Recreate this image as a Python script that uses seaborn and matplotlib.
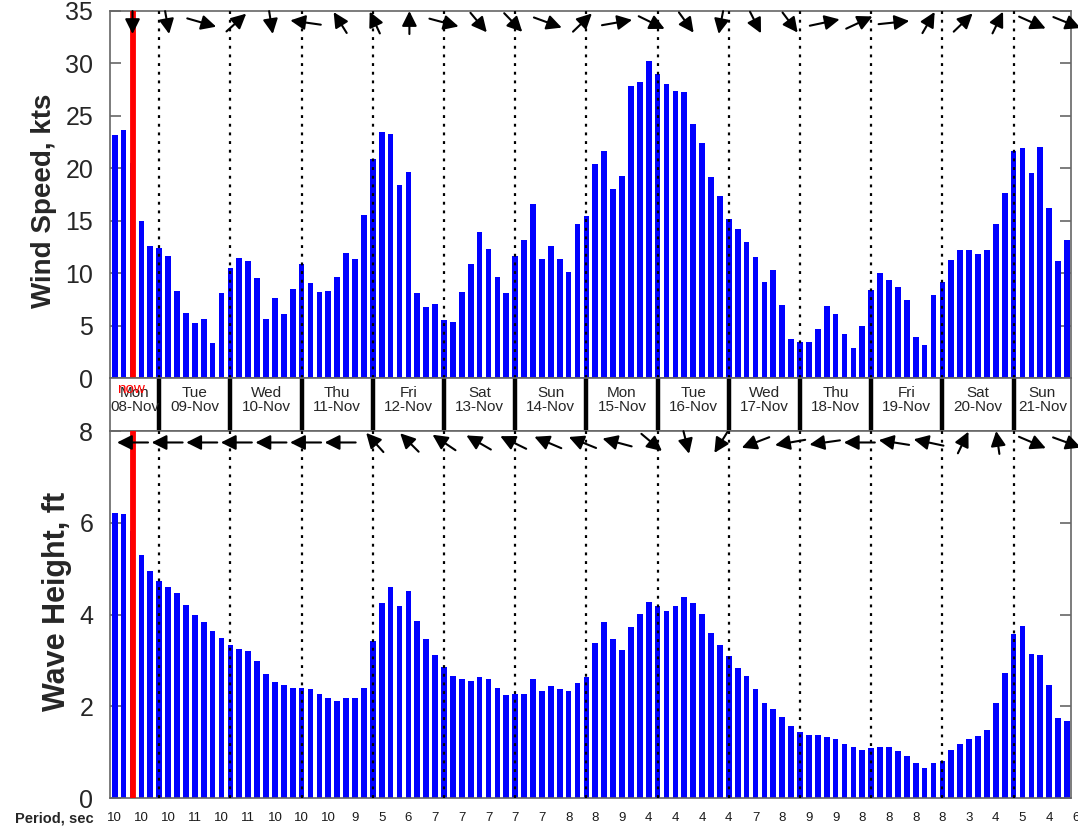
import numpy as np
import matplotlib
matplotlib.use('Agg')
import matplotlib.pyplot as plt
import matplotlib.transforms as mtransforms
import seaborn as sns

# 3-hourly forecast, starting Mon 08-Nov 09:00
wind_kts = [23.2, 23.7, 20.5, 15.0, 12.6, 12.4, 11.7, 8.3, 6.2, 5.3, 5.65, 3.4,
            8.1, 10.5, 11.5, 11.2, 9.6, 5.65, 7.65, 6.1, 8.5, 10.9, 9.05, 8.2,
            8.3, 9.7, 11.9, 11.4, 15.6, 20.9, 23.5, 23.3, 18.4, 19.65, 8.1, 6.8,
            7.1, 5.6, 5.4, 8.2, 10.9, 13.9, 12.3, 9.7, 8.1, 11.7, 13.2, 16.6,
            11.4, 12.6, 11.4, 10.1, 14.7, 15.5, 20.4, 21.7, 18.0, 19.3, 27.9, 28.2,
            30.2, 29.0, 28.0, 27.4, 27.25, 24.2, 22.4, 19.2, 17.4, 15.2, 14.2, 13.0,
            11.6, 9.2, 10.3, 7.0, 3.75, 3.5, 3.45, 4.7, 6.9, 6.1, 4.25, 2.85,
            5.0, 8.4, 10.0, 9.4, 8.7, 7.5, 3.9, 3.15, 7.9, 9.2, 11.3, 12.2,
            12.25, 11.8, 12.2, 14.7, 17.7, 21.7, 21.9, 19.6, 22.0, 16.2, 11.2, 13.15]

wave_ft = [6.22, 6.19, 5.82, 5.30, 4.94, 4.74, 4.60, 4.47, 4.21, 3.99, 3.85, 3.65,
           3.49, 3.33, 3.26, 3.20, 3.00, 2.70, 2.53, 2.47, 2.40, 2.40, 2.37, 2.27,
           2.18, 2.11, 2.18, 2.18, 2.40, 3.43, 4.25, 4.60, 4.18, 4.52, 3.86, 3.46,
           3.13, 2.86, 2.67, 2.60, 2.56, 2.64, 2.60, 2.40, 2.24, 2.27, 2.27, 2.60,
           2.34, 2.44, 2.37, 2.34, 2.51, 2.64, 3.39, 3.85, 3.46, 3.22, 3.73, 4.02,
           4.28, 4.18, 4.08, 4.18, 4.38, 4.25, 4.02, 3.59, 3.33, 3.09, 2.83, 2.67,
           2.37, 2.08, 1.95, 1.78, 1.58, 1.45, 1.38, 1.38, 1.34, 1.29, 1.18, 1.12,
           1.05, 1.09, 1.12, 1.12, 1.02, 0.92, 0.76, 0.66, 0.76, 0.82, 1.05, 1.18,
           1.29, 1.35, 1.48, 2.08, 2.73, 3.58, 3.75, 3.15, 3.12, 2.47, 1.75, 1.68]

# arrow directions as drawn on screen (deg, 0 = right, 90 = up)
wind_arrow_deg = [-90, -80, -16, 42, -81, 172, 122, 115, 90, -15, -50, -46, -20, 44,
                  10, -26, -54, -101, -63, -53, 12, 25, 6, 60, 44, 64, -24, -22]
wave_arrow_deg = [180, 180, 180, 180, 180, 180, 180, 132, 135, 146, 150, 154, 157, 158,
                  165, -40, -76, -122, -159, -170, -172, 180, 171, 168, 64, 98, -23, -20]

day_names = ['Mon', 'Tue', 'Wed', 'Thu', 'Fri', 'Sat', 'Sun',
             'Mon', 'Tue', 'Wed', 'Thu', 'Fri', 'Sat', 'Sun']
day_dates = ['08-Nov', '09-Nov', '10-Nov', '11-Nov', '12-Nov', '13-Nov', '14-Nov',
             '15-Nov', '16-Nov', '17-Nov', '18-Nov', '19-Nov', '20-Nov', '21-Nov']
period_sec = [10, 10, 10, 11, 10, 11, 10, 10, 10, 9, 5, 6, 7, 7, 7, 7, 7, 8, 8,
              9, 4, 4, 4, 4, 7, 8, 9, 9, 8, 8, 8, 8, 3, 4, 5, 4, 6]

now_idx = 2          # bar index of "now"
first_midnight = 5   # bar index of Tue 00:00
per_day = 8

sns.set_style('white')
plt.rcParams['font.family'] = ['Liberation Sans', 'DejaVu Sans']

n = len(wind_kts)
idx = np.arange(n)
midnights = np.arange(first_midnight, n, per_day)
xlim = (-0.53, n - 0.55)

fig = plt.figure(figsize=(10.78, 8.3), dpi=100)
W, H = 1078, 830
def box(l, t, r, b):
    return [l / W, 1 - b / H, (r - l) / W, (b - t) / H]

ax_w = fig.add_axes(box(110, 11, 1071, 378.3))
ax_d = fig.add_axes(box(110, 378.3, 1071, 431))
ax_h = fig.add_axes(box(110, 431, 1071, 798.3))

spine_c = '#666666'


def draw_arrows(ax, xs, y, degs, rx=15.5, ry=11.5):
    # rx, ry: half length in pixels for horizontal / vertical arrows
    for x, d in zip(xs, degs):
        a = np.radians(d)
        c, s = np.cos(a), np.sin(a)
        r = 1.0 / np.sqrt((c / rx) ** 2 + (s / ry) ** 2)
        dx, dy = c * r * 0.72, s * r * 0.72   # to points
        tip = mtransforms.offset_copy(ax.transData, fig=fig, x=dx, y=dy, units='points')
        tail = mtransforms.offset_copy(ax.transData, fig=fig, x=-dx, y=-dy, units='points')
        ax.annotate('', xy=(x, y), xycoords=tip, xytext=(x, y), textcoords=tail,
                    arrowprops=dict(arrowstyle='-|>,head_length=0.5,head_width=0.25',
                                    mutation_scale=18, lw=1.5, color='black',
                                    shrinkA=0, shrinkB=0),
                    annotation_clip=False, zorder=5)


def panel(ax, values, ymax, yticks, ylabel, arrows, arrow_y, lab_xy, lab_size):
    sns.barplot(x=idx, y=values, color='#0000ff', saturation=1, width=0.64,
                linewidth=0, ax=ax, zorder=2)
    ax.set_xlim(*xlim)
    ax.set_ylim(0, ymax)
    ax.set_xticks([])
    ax.set_xlabel('')
    ax.set_yticks(yticks)
    ax.tick_params(axis='y', direction='in', length=8, width=1.2, color=spine_c,
                   left=True, right=True, labelsize=18, labelcolor='#262626', pad=12)
    for sp in ax.spines.values():
        sp.set_color(spine_c)
        sp.set_linewidth(1.2)
    ax.set_ylabel(ylabel, fontsize=lab_size, fontweight='bold')
    ax.yaxis.set_label_coords(*lab_xy)
    ax.vlines(midnights, 0, ymax, colors='black', linestyles=(0, (1.3, 2.6)),
              linewidth=1.6, zorder=3)
    ax.axvline(now_idx, color='red', lw=4.2, zorder=4)
    xs = np.linspace(now_idx, n - 1, len(arrows))
    draw_arrows(ax, xs, arrow_y, arrows)


panel(ax_w, wind_kts, 35, range(0, 36, 5), 'Wind Speed, kts', wind_arrow_deg, 33.9,
      (-0.055, 0.482), 20)
panel(ax_h, wave_ft, 8, range(0, 9, 2), 'Wave Height, ft', wave_arrow_deg, 7.75,
      (-0.040, 0.537), 22)

# day strip
ax_d.set_xlim(*xlim)
ax_d.set_ylim(0, 1)
ax_d.set_xticks([])
ax_d.set_yticks([])
for sp in ax_d.spines.values():
    sp.set_color(spine_c)
    sp.set_linewidth(1.2)
ax_d.vlines(midnights, 0, 1, colors='black', linewidth=3.2)
starts = np.concatenate([[xlim[0]], midnights])
ends = np.concatenate([midnights, [xlim[1]]])
for s, e, dn, dd in zip(starts, ends, day_names, day_dates):
    ax_d.text((s + e) / 2, 0.59, dn + '\n' + dd, ha='center', va='center',
              fontsize=11, linespacing=1.0, clip_on=False)
ax_d.text(now_idx - 0.2, 0.80, 'now', color='red', ha='center', va='center', fontsize=11)

# period row
trans = mtransforms.blended_transform_factory(ax_h.transData, ax_h.transAxes)
for k, p in enumerate(period_sec):
    ax_h.text(k * 3, -0.053, str(p), transform=trans, ha='center', va='center',
              fontsize=9.5, color='#1a1a1a', clip_on=False)
fig.text(94 / W, 1 - 818 / H, 'Period, sec', ha='right', va='center',
         fontsize=10.5, fontweight='bold')

fig.savefig('out.png', dpi=100)
